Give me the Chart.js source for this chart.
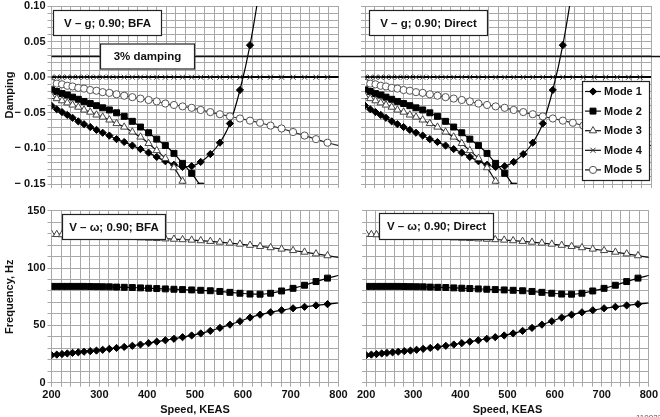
<!DOCTYPE html>
<html>
<head>
<meta charset="utf-8">
<script src="https://cdn.jsdelivr.net/npm/chart.js@4.4.0/dist/chart.umd.min.js"></script>
<style>
html,body{margin:0;padding:0;background:#fff;}
#wrap{position:relative;width:660px;height:417px;overflow:hidden;background:#fff;}
canvas{position:absolute;}
</style>
</head>
<body>
<div id="wrap">
<canvas id="tl" style="left:0;top:-10px;" width="355" height="205"></canvas>
<canvas id="tr" style="left:355px;top:-10px;" width="305" height="205"></canvas>
<canvas id="bl" style="left:0;top:195px;" width="355" height="222"></canvas>
<canvas id="br" style="left:355px;top:195px;" width="305" height="222"></canvas>
</div>
<script>
// ---------- DATA ----------
const speeds = [200,211,222,233,244,256,268,281,294,307,321,336,352,369,386,403,420,438,456,474,493,512,532,552,573,594,615,636,658,681,705,729,753,777,800];
const modeNames = ['Mode 1','Mode 2','Mode 3','Mode 4','Mode 5'];

// Damping (V-g)
const dampMode1 = [-0.040,-0.045,-0.049,-0.053,-0.057,-0.062,-0.066,-0.070,-0.074,-0.078,-0.082,-0.087,-0.091,-0.096,-0.101,-0.106,-0.112,-0.118,-0.123,-0.126,-0.125,-0.119,-0.108,-0.092,-0.065,-0.018,0.045,0.13,0.24];
const dampMode2 = [-0.017,-0.020,-0.023,-0.025,-0.028,-0.031,-0.034,-0.037,-0.040,-0.043,-0.046,-0.050,-0.055,-0.062,-0.070,-0.078,-0.087,-0.096,-0.107,-0.121,-0.135,-0.153,-0.175];
const dampMode3 = [-0.027,-0.030,-0.033,-0.036,-0.039,-0.042,-0.046,-0.049,-0.053,-0.056,-0.060,-0.065,-0.070,-0.077,-0.084,-0.093,-0.103,-0.114,-0.127,-0.146,-0.166];
const dampMode4 = [0,0,0,0,0,0,0,0,0,0,0,0,0,0,0,0,0,0,0,0,0,0,0,0,0,0,0,0,0,0,0,0,0,0,0];
const dampMode5 = [-0.008,-0.009,-0.010,-0.012,-0.013,-0.015,-0.016,-0.018,-0.019,-0.021,-0.022,-0.024,-0.026,-0.028,-0.030,-0.032,-0.034,-0.037,-0.039,-0.041,-0.043,-0.046,-0.049,-0.052,-0.055,-0.058,-0.061,-0.064,-0.068,-0.072,-0.077,-0.082,-0.087,-0.092,-0.096];

// Frequency (V-omega), Hz
const freqMode1 = [24,24.5,25,25.5,26,26.5,27,27.5,28,28.7,29.5,30.3,31.2,32.2,33.3,34.5,35.8,37,38.3,39.7,41.2,43,45.2,47.8,50.6,53.6,56.8,59.3,61.4,63.2,64.9,66.2,67.4,68.5,69.5];
const freqMode2 = [84,84,84,84,84,84,84,83.9,83.8,83.7,83.6,83.4,83.2,83,82.7,82.4,82.1,81.8,81.5,81.2,80.9,80.6,80.2,79.6,78.8,78,77.3,77.2,78,80,82.3,85,88.2,91.2,93.5];
const freqMode3 = [129.5,129.3,129.1,128.9,128.7,128.5,128.3,128.1,127.9,127.7,127.5,127.2,127,126.7,126.4,126.1,125.8,125.5,125.2,124.8,124.4,123.9,123.3,122.6,121.8,120.9,119.9,118.9,117.8,116.6,115.3,113.9,112.4,110.8,109.3];

// Axes / ticks
const speedMin = 200, speedMax = 800, speedStep = 20, speedLabelStep = 100;
const dampMin = -0.15, dampMax = 0.10, dampStep = 0.01, dampLabelStep = 0.05;
const freqMin = 0, freqMax = 150, freqStep = 10, freqLabelStep = 50;
const dampingRef = 0.03;
const dampingRefLabel = '3% damping';
const panelTitles = {
  tl: 'V \u2013 g; 0.90; BFA',
  tr: 'V \u2013 g; 0.90; Direct',
  bl: 'V \u2013 \u03c9; 0.90; BFA',
  br: 'V \u2013 \u03c9; 0.90; Direct'
};
const xTitle = 'Speed, KEAS';
const yTitleDamp = 'Damping';
const yTitleFreq = 'Frequency, Hz';

// ---------- STYLES ----------
const FONT = '"Liberation Sans", Arial, Helvetica, sans-serif';
const GRID = '#a8a8a8';
const styles = [
  {pointStyle:'rectRot', radius:3.6, fill:'#000', stroke:'#000', line:'#000'},
  {pointStyle:'rect', radius:4.2, fill:'#000', stroke:'#000', line:'#000'},
  {pointStyle:'triangle', radius:4.2, fill:'#fff', stroke:'#444', line:'#111'},
  {pointStyle:'crossRot', radius:3.6, fill:'#fff', stroke:'#333', line:'#000'},
  {pointStyle:'circle', radius:3.6, fill:'#fff', stroke:'#555', line:'#333'}
];

function toPts(vals){
  const out=[];
  for(let i=0;i<vals.length && i<speeds.length;i++) out.push({x:speeds[i], y:vals[i]});
  return out;
}
function makeDataset(vals, k){
  const s = styles[k];
  return {
    label: modeNames[k],
    data: toPts(vals),
    borderColor: s.line,
    borderWidth: k===3 ? 1.8 : 1.2,
    pointStyle: s.pointStyle,
    pointRadius: (ctx)=> (ctx.raw && ctx.raw.x >= 799) ? 0 : s.radius,
    pointBackgroundColor: s.fill,
    pointBorderColor: s.stroke,
    pointBorderWidth: 1,
    tension: 0.35,
    cubicInterpolationMode: 'monotone',
    fill: false
  };
}

function fmtDamp(v){
  const r = Math.round(v*100);
  if (r % 5 !== 0) return '';
  const a = Math.abs(r/100).toFixed(2);
  return r < 0 ? '\u2212 ' + a : a;
}

function drawBox(ctx, x, y, w, h, text, fontSize){
  ctx.save();
  ctx.fillStyle = '#fff';
  ctx.fillRect(x, y, w, h);
  ctx.strokeStyle = '#222';
  ctx.lineWidth = 1.2;
  ctx.strokeRect(x+0.5, y+0.5, w-1, h-1);
  ctx.fillStyle = '#111';
  ctx.font = 'bold ' + fontSize + 'px ' + FONT;
  ctx.textAlign = 'center';
  ctx.textBaseline = 'middle';
  ctx.fillText(text, x + w/2, y + h/2 + 0.5);
  ctx.restore();
}

function makeOptions(cfg){
  return {
    responsive: false,
    animation: false,
    events: [],
    layout: {padding: cfg.padding},
    plugins: {legend:{display:false}, tooltip:{enabled:false}},
    scales: {
      x: {
        type:'linear', min:speedMin, max:speedMax,
        border:{display:true, color:GRID, width:1},
        grid:{color:GRID, lineWidth:1, drawTicks:true, tickLength:4, tickColor:GRID},
        ticks:{
          display: cfg.xLabels, stepSize:speedStep, autoSkip:false, maxRotation:0, padding:2,
          color:'#111', font:{family:FONT, size:11, weight:'bold'},
          callback:(v)=> (Math.round(v) % speedLabelStep === 0) ? String(Math.round(v)) : ''
        },
        title:{display: cfg.xLabels, text:xTitle, color:'#111', padding:0, font:{family:FONT, size:11, weight:'bold'}},
        afterFit:(sc)=>{ sc.height = cfg.xHeight; }
      },
      y: {
        type:'linear', min:cfg.yMin, max:cfg.yMax,
        border:{display:true, color:GRID, width:1},
        grid:{
          color:(c)=> (cfg.damp && c.tick && Math.abs(c.tick.value) < 1e-9) ? '#000' : GRID,
          lineWidth:(c)=> (cfg.damp && c.tick && Math.abs(c.tick.value) < 1e-9) ? 1.8 : 1,
          drawTicks:true, tickLength:4, tickColor:GRID
        },
        ticks:{
          display: cfg.yLabels, stepSize:cfg.yStep, autoSkip:false, padding:2,
          color:'#111', font:{family:FONT, size:11, weight:'bold'},
          callback: cfg.damp ? fmtDamp : (v)=> (Math.round(v) % freqLabelStep === 0 ? String(Math.round(v)) : '')
        },
        title:{display: cfg.yLabels, text:cfg.yTitle, color:'#111', padding:{top:3,bottom:0}, font:{family:FONT, size:11, weight:'bold'}},
        afterFit:(sc)=>{ sc.width = cfg.yWidth; }
      }
    }
  };
}

// plugins
function panelPlugin(id, opts){
  return {
    id: 'panel_'+id,
    afterDatasetsDraw(chart){
      const ctx = chart.ctx;
      const ca = chart.chartArea;
      const ys = chart.scales.y;
      if (opts.refLine){
        const yy = Math.round(ys.getPixelForValue(dampingRef)) + 0.5;
        ctx.save();
        ctx.strokeStyle = '#111';
        ctx.lineWidth = 1.4;
        ctx.beginPath();
        ctx.moveTo(opts.refLine[0] === 'left' ? ca.left : opts.refLine[0], yy);
        ctx.lineTo(opts.refLine[1], yy);
        ctx.stroke();
        ctx.restore();
        if (opts.refBox){
          const b = opts.refBox;
          drawBox(ctx, b[0], yy - 13, b[1], 26, dampingRefLabel, 11.5);
        }
      }
      const t = opts.title;
      drawBox(ctx, t[0], t[1], t[2], t[3], panelTitles[id], 11.5);
      if (opts.legend){
        const L = opts.legend;
        ctx.save();
        ctx.fillStyle = '#fff';
        ctx.fillRect(L.x, L.y, L.w, L.h);
        ctx.strokeStyle = '#222';
        ctx.lineWidth = 1.2;
        ctx.strokeRect(L.x+0.5, L.y+0.5, L.w-1, L.h-1);
        for (let k=0;k<5;k++){
          const s = styles[k];
          const cy = L.y + 10.5 + k*19.6;
          ctx.strokeStyle = '#111';
          ctx.lineWidth = 1.2;
          ctx.beginPath(); ctx.moveTo(L.x+3, cy); ctx.lineTo(L.x+19, cy); ctx.stroke();
          ctx.fillStyle = s.fill; ctx.strokeStyle = s.stroke; ctx.lineWidth = 1;
          Chart.helpers.drawPoint(ctx, {pointStyle:s.pointStyle, radius:s.radius, borderWidth:1, rotation:0}, L.x+11, cy);
          ctx.fillStyle = '#111';
          ctx.font = 'bold 11px ' + FONT;
          ctx.textAlign = 'left';
          ctx.textBaseline = 'middle';
          ctx.fillText(modeNames[k], L.x + 22, cy + 0.5);
        }
        ctx.restore();
      }
      if (opts.code){
        ctx.save();
        ctx.fillStyle = '#555';
        ctx.font = '8px ' + FONT;
        ctx.textAlign = 'left';
        ctx.textBaseline = 'top';
        ctx.fillText('110022', opts.code[0], opts.code[1]);
        ctx.restore();
      }
    }
  };
}

const dampSets = () => [
  makeDataset(dampMode5,4),
  makeDataset(dampMode4,3),
  makeDataset(dampMode3,2),
  makeDataset(dampMode2,1),
  makeDataset(dampMode1,0)
];
const freqSets = () => [
  makeDataset(freqMode3,2),
  makeDataset(freqMode2,1),
  makeDataset(freqMode1,0)
];

// Top-left (canvas shifted up by 10px)
new Chart(document.getElementById('tl'), {
  type:'line',
  data:{datasets: dampSets()},
  options: makeOptions({padding:{left:0,top:16,right:16.5,bottom:0}, xLabels:false, xHeight:11, yLabels:true, yWidth:51.5,
    yMin:dampMin, yMax:dampMax, yStep:dampStep, damp:true, yTitle:yTitleDamp}),
  plugins:[panelPlugin('tl', {refLine:['left',355], refBox:[100,95], title:[53,20,109,26]})]
});
// Top-right
new Chart(document.getElementById('tr'), {
  type:'line',
  data:{datasets: dampSets()},
  options: makeOptions({padding:{left:0,top:16,right:9,bottom:0}, xLabels:false, xHeight:11, yLabels:false, yWidth:10,
    yMin:dampMin, yMax:dampMax, yStep:dampStep, damp:true, yTitle:''}),
  plugins:[panelPlugin('tr', {refLine:[0,305], title:[14,20,119,26], legend:{x:227,y:91,w:68,h:100}})]
});
// Bottom-left
new Chart(document.getElementById('bl'), {
  type:'line',
  data:{datasets: freqSets()},
  options: makeOptions({padding:{left:0,top:15.7,right:16.5,bottom:0}, xLabels:true, xHeight:34.3, yLabels:true, yWidth:51.5,
    yMin:freqMin, yMax:freqMax, yStep:freqStep, damp:false, yTitle:yTitleFreq}),
  plugins:[panelPlugin('bl', {title:[62,19,104,26]})]
});
// Bottom-right
new Chart(document.getElementById('br'), {
  type:'line',
  data:{datasets: freqSets()},
  options: makeOptions({padding:{left:0,top:15.7,right:9,bottom:0}, xLabels:true, xHeight:34.3, yLabels:false, yWidth:10,
    yMin:freqMin, yMax:freqMax, yStep:freqStep, damp:false, yTitle:''}),
  plugins:[panelPlugin('br', {title:[24,18,115,27], code:[281,219]})]
});
</script>
</body>
</html>
